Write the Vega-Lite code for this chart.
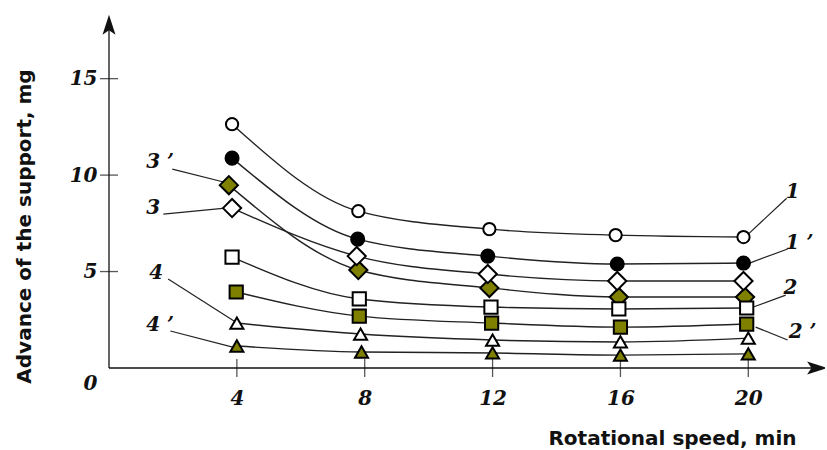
{
  "$schema": "https://vega.github.io/schema/vega-lite/v6.json",
  "width": 716,
  "height": 353,
  "autosize": {"type": "none"},
  "padding": {"left": 109, "top": 15, "right": 0, "bottom": 82},
  "background": "white",
  "config": {"view": {"stroke": null}},
  "resolve": {"scale": {"shape": "independent", "size": "independent", "fill": "independent"}},
  "datasets": {
    "pts": [
      {"s": "1", "x": 3.85, "y": 12.64}, {"s": "1", "x": 7.8, "y": 8.13}, {"s": "1", "x": 11.9, "y": 7.2}, {"s": "1", "x": 15.85, "y": 6.89}, {"s": "1", "x": 19.85, "y": 6.79},
      {"s": "1′", "x": 3.85, "y": 10.88}, {"s": "1′", "x": 7.78, "y": 6.68}, {"s": "1′", "x": 11.85, "y": 5.8}, {"s": "1′", "x": 15.9, "y": 5.39}, {"s": "1′", "x": 19.85, "y": 5.44},
      {"s": "3′", "x": 3.75, "y": 9.48}, {"s": "3′", "x": 7.8, "y": 5.08}, {"s": "3′", "x": 11.9, "y": 4.15}, {"s": "3′", "x": 15.95, "y": 3.68}, {"s": "3′", "x": 19.9, "y": 3.68},
      {"s": "3", "x": 3.85, "y": 8.29}, {"s": "3", "x": 7.75, "y": 5.8}, {"s": "3", "x": 11.85, "y": 4.87}, {"s": "3", "x": 15.9, "y": 4.51}, {"s": "3", "x": 19.85, "y": 4.51},
      {"s": "2", "x": 3.85, "y": 5.75}, {"s": "2", "x": 7.83, "y": 3.58}, {"s": "2", "x": 11.95, "y": 3.16}, {"s": "2", "x": 15.95, "y": 3.06}, {"s": "2", "x": 19.95, "y": 3.11},
      {"s": "2′", "x": 3.98, "y": 3.94}, {"s": "2′", "x": 7.83, "y": 2.69}, {"s": "2′", "x": 11.97, "y": 2.33}, {"s": "2′", "x": 16.0, "y": 2.12}, {"s": "2′", "x": 19.95, "y": 2.28},
      {"s": "4", "x": 4.0, "y": 2.33}, {"s": "4", "x": 7.87, "y": 1.76}, {"s": "4", "x": 12.0, "y": 1.45}, {"s": "4", "x": 16.0, "y": 1.35}, {"s": "4", "x": 20.0, "y": 1.55},
      {"s": "4′", "x": 4.0, "y": 1.14}, {"s": "4′", "x": 7.9, "y": 0.83}, {"s": "4′", "x": 12.0, "y": 0.78}, {"s": "4′", "x": 16.0, "y": 0.67}, {"s": "4′", "x": 20.0, "y": 0.73}
    ],
    "leaders": [
      {"x": 20.0, "y": 6.94, "x2": 21.2, "y2": 8.8},
      {"x": 20.04, "y": 5.44, "x2": 21.23, "y2": 6.17},
      {"x": 20.16, "y": 3.16, "x2": 21.17, "y2": 3.78},
      {"x": 20.23, "y": 2.12, "x2": 21.23, "y2": 1.45},
      {"x": 1.98, "y": 10.31, "x2": 3.71, "y2": 9.59},
      {"x": 1.7, "y": 7.98, "x2": 3.64, "y2": 8.29},
      {"x": 1.85, "y": 4.61, "x2": 3.96, "y2": 2.38},
      {"x": 1.92, "y": 1.92, "x2": 3.96, "y2": 1.04}
    ],
    "labels": [
      {"t": "1", "x": 21.39, "y": 9.12},
      {"t": "1 ’", "x": 21.6, "y": 6.48},
      {"t": "2", "x": 21.32, "y": 4.15},
      {"t": "2 ’", "x": 21.7, "y": 1.87},
      {"t": "3 ’", "x": 1.6, "y": 10.67},
      {"t": "3", "x": 1.38, "y": 8.29},
      {"t": "4", "x": 1.48, "y": 4.92},
      {"t": "4 ’", "x": 1.6, "y": 2.23}
    ],
    "axislines": [
      {"x": 0, "y": 0, "x2": 22.2, "y2": 0},
      {"x": 0, "y": 0, "x2": 0, "y2": 17.9}
    ],
    "arrows": [
      {"x": 0, "y": 17.8, "dir": "up"},
      {"x": 22.15, "y": 0, "dir": "right"}
    ],
    "xticks": [{"x": 4, "y": 0}, {"x": 8, "y": 0}, {"x": 12, "y": 0}, {"x": 16, "y": 0}, {"x": 20, "y": 0}],
    "yticks": [{"x": 0, "y": 5}, {"x": 0, "y": 10}, {"x": 0, "y": 15}]
  },
  "layer": [
    {
      "data": {"name": "axislines"},
      "mark": {"type": "rule", "color": "#111", "strokeWidth": 1.3},
      "encoding": {
        "x": {"field": "x", "type": "quantitative", "scale": {"domain": [0, 22.4], "nice": false, "zero": false},
          "axis": {"values": [4, 8, 12, 16, 20], "domain": false, "ticks": false, "grid": false,
            "labelFont": "DejaVu Serif", "labelFontStyle": "italic", "labelFontWeight": "bold", "labelFontSize": 20, "labelColor": "#111",
            "labelPadding": 30, "labelBaseline": "middle",
            "title": "Rotational speed, min", "titleFont": "DejaVu Sans", "titleFontWeight": "bold", "titleFontSize": 20, "titleColor": "#111",
            "titleX": 563, "titleY": 70, "titleAlign": "center", "titleBaseline": "middle"}},
        "y": {"field": "y", "type": "quantitative", "scale": {"domain": [0, 18.3], "nice": false, "zero": false},
          "axis": {"values": [0, 5, 10, 15], "domain": false, "ticks": false, "grid": false,
            "labelFont": "DejaVu Serif", "labelFontStyle": "italic", "labelFontWeight": "bold", "labelFontSize": 20, "labelColor": "#111",
            "labelPadding": 12,
            "labelOffset": {"condition": {"test": "datum.value == 0", "value": 15}, "value": 0},
            "title": "Advance of the support, mg", "titleFont": "DejaVu Sans", "titleFontWeight": "bold", "titleFontSize": 20, "titleColor": "#111",
            "titleX": -85, "titleY": 211, "titleAlign": "center", "titleBaseline": "middle", "titleAngle": -90}},
        "x2": {"field": "x2"},
        "y2": {"field": "y2"}
      }
    },
    {
      "data": {"name": "arrows"},
      "mark": {"type": "point", "filled": true, "color": "#111", "opacity": 1, "size": 400},
      "encoding": {
        "x": {"field": "x", "type": "quantitative"},
        "y": {"field": "y", "type": "quantitative"},
        "shape": {"field": "dir", "type": "nominal", "legend": null,
          "scale": {"domain": ["up", "right"], "range": ["M0,-1 L0.65,1 L0,0.55 L-0.65,1 Z", "M1,0 L-1,-0.65 L-0.55,0 L-1,0.65 Z"]}}
      }
    },
    {
      "data": {"name": "xticks"},
      "mark": {"type": "tick", "orient": "vertical", "color": "#111", "size": 18, "thickness": 1.3},
      "encoding": {
        "x": {"field": "x", "type": "quantitative"},
        "y": {"field": "y", "type": "quantitative"}
      }
    },
    {
      "data": {"name": "yticks"},
      "mark": {"type": "tick", "orient": "horizontal", "color": "#111", "size": 18, "thickness": 1.3},
      "encoding": {
        "x": {"field": "x", "type": "quantitative"},
        "y": {"field": "y", "type": "quantitative"}
      }
    },
    {
      "data": {"name": "leaders"},
      "mark": {"type": "rule", "color": "#222", "strokeWidth": 1.2},
      "encoding": {
        "x": {"field": "x", "type": "quantitative"},
        "y": {"field": "y", "type": "quantitative"},
        "x2": {"field": "x2"},
        "y2": {"field": "y2"}
      }
    },
    {
      "data": {"name": "pts"},
      "mark": {"type": "line", "interpolate": "monotone", "color": "#222", "strokeWidth": 1.4},
      "encoding": {
        "x": {"field": "x", "type": "quantitative"},
        "y": {"field": "y", "type": "quantitative"},
        "detail": {"field": "s", "type": "nominal"}
      }
    },
    {
      "data": {"name": "pts"},
      "mark": {"type": "point", "stroke": "#000", "strokeWidth": 2, "opacity": 1, "fillOpacity": 1},
      "encoding": {
        "x": {"field": "x", "type": "quantitative"},
        "y": {"field": "y", "type": "quantitative"},
        "shape": {"field": "s", "type": "nominal", "legend": null,
          "scale": {"domain": ["1", "1′", "2", "2′", "3", "3′", "4", "4′"],
            "range": ["circle", "circle", "square", "square", "diamond", "diamond", "triangle-up", "triangle-up"]}},
        "fill": {"field": "s", "type": "nominal", "legend": null,
          "scale": {"domain": ["1", "1′", "2", "2′", "3", "3′", "4", "4′"],
            "range": ["#ffffff", "#000000", "#ffffff", "#808000", "#ffffff", "#808000", "#ffffff", "#808000"]}},
        "size": {"field": "s", "type": "nominal", "legend": null,
          "scale": {"type": "ordinal", "domain": ["1", "1′", "2", "2′", "3", "3′", "4", "4′"],
            "range": [150, 170, 175, 175, 330, 330, 170, 170]}}
      }
    },
    {
      "data": {"name": "labels"},
      "mark": {"type": "text", "font": "DejaVu Serif", "fontStyle": "italic", "fontWeight": "bold", "fontSize": 20, "color": "#111", "align": "center", "baseline": "middle"},
      "encoding": {
        "x": {"field": "x", "type": "quantitative"},
        "y": {"field": "y", "type": "quantitative"},
        "text": {"field": "t", "type": "nominal"}
      }
    }
  ]
}
